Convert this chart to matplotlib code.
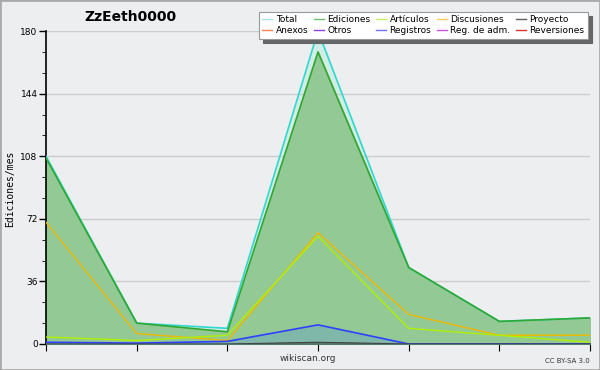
import matplotlib.pyplot as plt
from matplotlib.lines import Line2D
from matplotlib.patches import Rectangle

months = [0, 1, 2, 3, 4, 5, 6]
total = [108, 12, 9, 180, 44, 13, 15]
ediciones = [107, 12, 7, 168, 44, 13, 15]
articulos = [4, 2, 5, 62, 9, 5, 1]
discusiones = [70, 6, 2, 64, 17, 5, 5]
registros = [1, 0.5, 1.5, 11, 0, 0, 0]
proyecto = [0, 0, 0, 1, 0, 0, 0]

legend_names = ['Total', 'Anexos', 'Ediciones', 'Otros', 'Artículos', 'Registros',
                'Discusiones', 'Reg. de adm.', 'Proyecto', 'Reversiones']
legend_colors = ['#a8e4e4', '#ff8050', '#70c070', '#9040e0', '#c8f060', '#7070ff',
                 '#ffcc60', '#d050e0', '#606060', '#e03030']

bg = '#edeef0'
fig = plt.figure(figsize=(6, 3.7), dpi=100, facecolor=bg)
fig.patches.append(Rectangle((0, 0), 1, 1, transform=fig.transFigure, fill=False,
                             edgecolor='#aaaaaa', linewidth=2))
ax = fig.add_axes([0.0767, 0.0703, 0.9066, 0.8457], facecolor=bg)

ax.fill_between(months, ediciones, total, color='#d2ece6', zorder=1)
ax.fill_between(months, 0, ediciones, color='#93c994', zorder=2)
ax.fill_between(months, 0, registros, color='#7fb8a8', zorder=3)
ax.fill_between(months, 0, proyecto, color='#557766', zorder=3)
ax.plot(months, total, color='#30d8d0', lw=1.2, zorder=4)
ax.plot(months, ediciones, color='#30a830', lw=1.2, zorder=5)
ax.plot(months, discusiones, color='#f0b800', lw=1, zorder=6)
ax.plot(months, articulos, color='#b0f000', lw=1, zorder=6)
ax.plot(months, registros, color='#3040ff', lw=1.2, zorder=7)
ax.plot(months, proyecto, color='#444444', lw=0.8, zorder=7)

ax.set_xlim(0, 6)
ax.set_ylim(0, 180)
ax.set_yticks([0, 36, 72, 108, 144, 180])
ax.set_yticks(range(0, 181, 12), minor=True)
ax.set_xticks(months)
ax.set_xticklabels([])
ax.tick_params(axis='y', labelsize=6.5, length=5, width=1, pad=1, colors='black')
ax.tick_params(axis='y', which='minor', length=3)
ax.tick_params(axis='x', length=5)
ax.grid(axis='y', color='#cccccc', lw=1, zorder=0)
for s in ['top', 'right']:
    ax.spines[s].set_visible(False)
ax.spines['left'].set_linewidth(1.2)
ax.spines['bottom'].set_linewidth(1.2)

fig.text(0.017, 0.49, 'Ediciones/mes', fontsize=7, family='DejaVu Sans Mono',
         rotation=90, ha='center', va='center')
fig.text(0.217, 0.955, 'ZzEeth0000', fontsize=10, fontweight='bold', ha='center', va='center')
fig.text(0.513, 0.03, 'wikiscan.org', fontsize=6.5, ha='center', va='center', color='#333333')
fig.text(0.983, 0.025, 'CC BY-SA 3.0', fontsize=5, ha='right', va='center', color='#333333')

handles = [Line2D([], [], color=c, lw=1) for c in legend_colors]
leg = fig.legend(handles, legend_names, ncol=5, loc='upper right',
                 bbox_to_anchor=(0.98, 0.968), fontsize=6.5, frameon=True,
                 fancybox=False, shadow={'color': '#666666', 'alpha': 1, 'ox': 3, 'oy': -3},
                 handlelength=1.1, handletextpad=0.4, columnspacing=0.6,
                 labelspacing=0.2, borderpad=0.4, borderaxespad=0)
leg.get_frame().set_edgecolor('#999999')
leg.get_frame().set_linewidth(0.8)

fig.savefig('out.png', dpi=100, facecolor=bg)
